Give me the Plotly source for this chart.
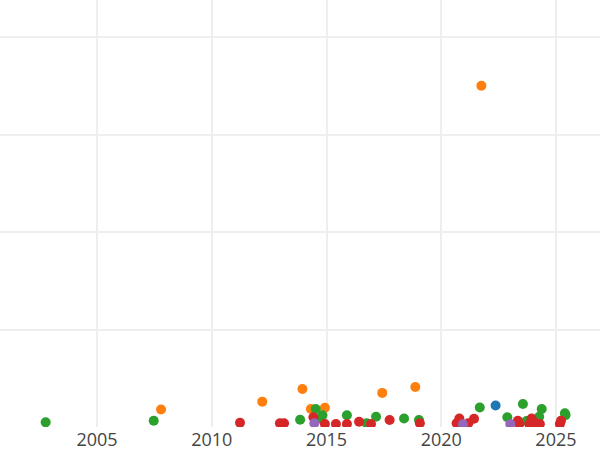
import plotly.graph_objects as go

# Series values (x = decimal year, y = value)
blue_x = [2022.37]
blue_y = [110]

orange_x = [2007.79, 2012.20, 2013.95, 2014.32, 2014.93, 2017.43, 2018.87, 2021.75]
orange_y = [90, 130, 195, 92, 99, 175, 205, 1750]

green_x = [2002.76, 2007.47, 2013.85, 2014.53, 2014.72, 2014.82, 2015.89, 2016.75,
           2017.16, 2018.38, 2019.03, 2021.68, 2022.88, 2023.56, 2023.72, 2024.27,
           2024.38, 2025.39, 2025.42]
green_y = [24, 32, 37, 92, 44, 60, 60, 19, 53, 44, 36, 100, 50, 118, 31, 53, 92, 70, 61]

red_x = [2011.23, 2012.97, 2013.15, 2014.43, 2014.93, 2015.41, 2015.89, 2016.42,
         2016.94, 2017.75, 2019.07, 2020.67, 2020.79, 2021.18, 2021.43, 2023.34,
         2023.40, 2023.84, 2023.94, 2024.08, 2024.30, 2025.17, 2025.22]
red_y = [22, 19, 19, 50, 15, 15, 15, 27, 15, 36, 19, 19, 44, 19, 42, 32, 15, 15, 44,
         19, 15, 15, 32]

purple_x = [2014.47, 2020.95, 2023.01]
purple_y = [19, 14, 15]

series = [
    ("A", blue_x, blue_y, "#1f77b4"),
    ("B", orange_x, orange_y, "#ff7f0e"),
    ("C", green_x, green_y, "#2ca02c"),
    ("D", red_x, red_y, "#d62728"),
    ("E", purple_x, purple_y, "#9467bd"),
]

x_ticks = [2005, 2010, 2015, 2020, 2025]

fig = go.Figure()
for name, xs, ys, col in series:
    fig.add_trace(go.Scatter(x=xs, y=ys, mode="markers", name=name,
                             marker=dict(color=col, size=10)))

fig.update_layout(
    width=600, height=450,
    margin=dict(l=0, r=0, t=0, b=23),
    plot_bgcolor="white", paper_bgcolor="white",
    showlegend=False,
    font=dict(family="Open Sans", size=18, color="#444"),
)
fig.update_xaxes(range=[2000.77, 2026.92], tickvals=x_ticks,
                 ticktext=[str(t) for t in x_ticks],
                 showgrid=True, gridcolor="#eeeeee", gridwidth=1.5,
                 zeroline=False, showline=False, ticks="",
                 automargin=False)
fig.update_yaxes(range=[0, 2190], dtick=500, showticklabels=False,
                 showgrid=True, gridcolor="#eeeeee", gridwidth=1.5,
                 zeroline=False, showline=False, ticks="", automargin=False)

fig.write_html("out.html", config={"displayModeBar": False},
               post_script="document.body.style.margin='0';")
